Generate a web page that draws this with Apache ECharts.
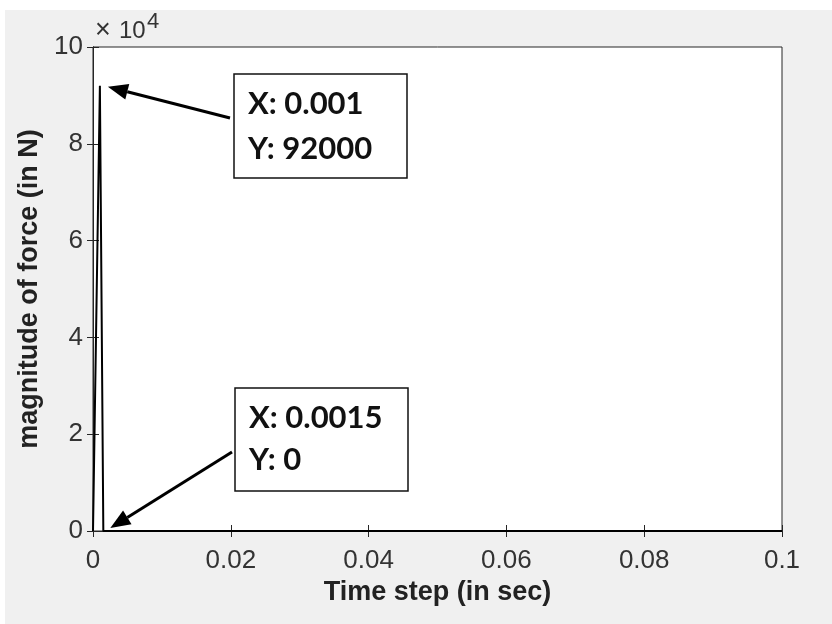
<!DOCTYPE html>
<html>
<head>
<meta charset="utf-8">
<script src="https://cdn.jsdelivr.net/npm/echarts@6/dist/echarts.min.js"></script>
<style>html,body{margin:0;padding:0;}#c{width:832px;height:624px;}</style>
</head>
<body>
<div id="c"></div>
<script>
// Data
const timeValues = [0, 0.001, 0.0015, 0.1];
const forceValues = [0, 92000, 0, 0];
const xTickLabels = ['0', '0.02', '0.04', '0.06', '0.08', '0.1'];
const yTickLabels = ['0', '2', '4', '6', '8', '10'];
const tipX = [0.001, 0.0015];
const tipY = [92000, 0];
const tipTextX = ['X: 0.001', 'X: 0.0015'];
const tipTextY = ['Y: 92000', 'Y: 0'];

const chart = echarts.init(document.getElementById('c'), null, {renderer: 'canvas'});
const axisColor = '#262626';
const labelColor = '#333333';
const baseFont = 'Liberation Sans, Arial, Helvetica, sans-serif';

const option = {
  backgroundColor: '#f0f0f0',
  animation: false,
  grid: {left: 93, right: 50, top: 47, bottom: 93, show: true, backgroundColor: '#ffffff', borderColor: axisColor, borderWidth: 1},
  xAxis: [{
    type: 'value', min: 0, max: 0.1, interval: 0.02,
    axisLine: {show: true, lineStyle: {color: axisColor, width: 1}},
    axisTick: {show: true, inside: true, length: 6, lineStyle: {color: axisColor}},
    splitLine: {show: false},
    axisLabel: {margin: 17, color: labelColor, fontSize: 26, fontFamily: baseFont,
      formatter: (v, i) => xTickLabels[i]},
    name: 'Time step (in sec)', nameLocation: 'middle', nameGap: 31,
    nameTextStyle: {fontSize: 27, fontWeight: 'bold', color: '#222', fontFamily: baseFont}
  }, {
    type: 'value', min: 0, max: 0.1, interval: 0.02, position: 'top',
    axisLine: {show: true, lineStyle: {color: axisColor, width: 1}},
    axisTick: {show: true, inside: true, length: 6, lineStyle: {color: axisColor}},
    axisLabel: {show: false}, splitLine: {show: false}
  }],
  yAxis: [{
    type: 'value', min: 0, max: 100000, interval: 20000,
    axisLine: {show: true, lineStyle: {color: axisColor, width: 1}},
    axisTick: {show: true, inside: true, length: 6, lineStyle: {color: axisColor}},
    splitLine: {show: false},
    axisLabel: {margin: 10, color: labelColor, fontSize: 26, fontFamily: baseFont,
      formatter: (v, i) => yTickLabels[i]},
    name: 'magnitude of force (in N)', nameLocation: 'middle', nameGap: 43, nameRotate: 90,
    nameTextStyle: {fontSize: 27, fontWeight: 'bold', color: '#222', fontFamily: baseFont}
  }, {
    type: 'value', min: 0, max: 100000, interval: 20000, position: 'right',
    axisLine: {show: true, lineStyle: {color: axisColor, width: 1}},
    axisTick: {show: true, inside: true, length: 6, lineStyle: {color: axisColor}},
    axisLabel: {show: false}, splitLine: {show: false}
  }],
  series: [{
    type: 'line',
    data: timeValues.map((t, i) => [t, forceValues[i]]),
    showSymbol: false, symbol: 'none', clip: false,
    lineStyle: {color: '#000', width: 2},
    z: 5
  }]
};
chart.setOption(option);

// Data tip annotations (arrow tips from the data points via the axes)
const boxes = [
  {x: 234, y: 74, w: 173, h: 104, tail: [230, 118], off: [8, 1], l1: 103.5, l2: 148.5},
  {x: 235, y: 388, w: 173, h: 103, tail: [232, 452], off: [7, -3], l1: 417.5, l2: 460}
];
const g = [
  {type: 'rect', shape: {x: 0, y: 0, width: 832, height: 10}, style: {fill: '#ffffff'}, z: 0},
  {type: 'rect', shape: {x: 0, y: 0, width: 5, height: 624}, style: {fill: '#ffffff'}, z: 0},
  {type: 'text', x: 95, y: 31, style: {text: '×', fontSize: 27, fontFamily: baseFont, fill: labelColor, verticalAlign: 'middle'}, z: 10},
  {type: 'text', x: 119, y: 31, style: {text: '10', fontSize: 24, fontFamily: baseFont, fill: labelColor, verticalAlign: 'middle'}, z: 10},
  {type: 'text', x: 147, y: 22, style: {text: '4', fontSize: 22, fontFamily: baseFont, fill: labelColor, verticalAlign: 'middle'}, z: 10}
];
boxes.forEach((b, i) => {
  const p = chart.convertToPixel({xAxisIndex: 0, yAxisIndex: 0}, [tipX[i], tipY[i]]);
  const tip = [p[0] + b.off[0], p[1] + b.off[1]];
  const dx = tip[0] - b.tail[0], dy = tip[1] - b.tail[1];
  const len = Math.sqrt(dx * dx + dy * dy);
  const ux = dx / len, uy = dy / len;
  const hl = 20, hw = 8;
  const base = [tip[0] - ux * hl, tip[1] - uy * hl];
  g.push({type: 'line', shape: {x1: b.tail[0], y1: b.tail[1], x2: base[0], y2: base[1]},
    style: {stroke: '#000', lineWidth: 3}, z: 20});
  g.push({type: 'polygon', shape: {points: [tip, [base[0] - uy * hw, base[1] + ux * hw], [base[0] + uy * hw, base[1] - ux * hw]]},
    style: {fill: '#000'}, z: 20});
  g.push({type: 'rect', shape: {x: b.x, y: b.y, width: b.w, height: b.h},
    style: {fill: '#ffffff', stroke: '#111', lineWidth: 1.5}, z: 21});
  g.push({type: 'text', x: b.x + 14, y: b.l1, style: {text: tipTextX[i], fontSize: 31, fontWeight: 'bold', fontFamily: 'Lato, Open Sans, sans-serif', fill: '#111', verticalAlign: 'middle'}, z: 22});
  g.push({type: 'text', x: b.x + 14, y: b.l2, style: {text: tipTextY[i], fontSize: 31, fontWeight: 'bold', fontFamily: 'Lato, Open Sans, sans-serif', fill: '#111', verticalAlign: 'middle'}, z: 22});
});
chart.setOption({graphic: g});
</script>
</body>
</html>
